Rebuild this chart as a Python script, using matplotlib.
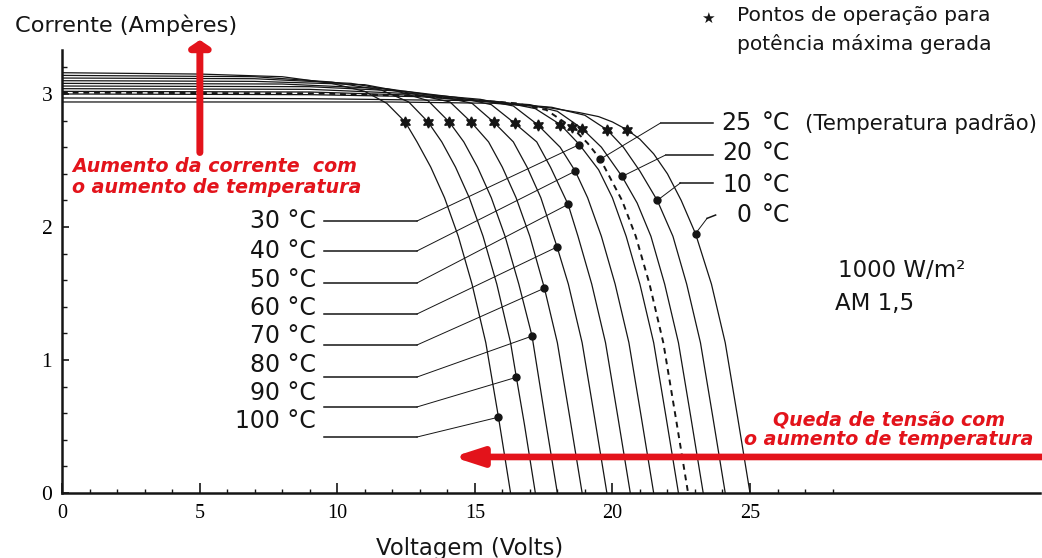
import matplotlib
matplotlib.use("Agg")
import matplotlib.pyplot as plt
from matplotlib.ticker import FixedLocator, MultipleLocator

# I-V curves (V in volts, I in amperes)
v_100 = [0, 5, 8, 9.8, 11.0, 11.8, 12.47, 12.9, 13.4, 13.9, 14.4, 14.9, 15.4, 15.86, 16.3]
i_100 = [3.16, 3.15, 3.13, 3.08, 3.02, 2.93, 2.79, 2.64, 2.45, 2.22, 1.93, 1.57, 1.13, 0.57, 0]
v_90 = [0, 7, 9.8, 11.6, 12.6, 13.3, 13.8, 14.3, 14.8, 15.3, 15.8, 16.3, 16.51, 16.8, 17.2]
i_90 = [3.14, 3.13, 3.09, 3.03, 2.94, 2.79, 2.64, 2.45, 2.22, 1.93, 1.57, 1.13, 0.87, 0.52, 0]
v_80 = [0, 7, 10.5, 12.2, 13.3, 14.07, 14.6, 15.1, 15.6, 16.1, 16.6, 17.08, 17.55, 18.0]
i_80 = [3.12, 3.115, 3.08, 3.02, 2.95, 2.79, 2.64, 2.45, 2.22, 1.93, 1.57, 1.18, 0.57, 0]
v_70 = [0, 7, 11, 12.8, 14.1, 14.86, 15.5, 16.0, 16.5, 17.0, 17.53, 18.0, 18.45, 18.9]
i_70 = [3.10, 3.095, 3.07, 3.0, 2.94, 2.79, 2.64, 2.45, 2.22, 1.93, 1.54, 1.13, 0.57, 0]
v_60 = [0, 8, 11.8, 13.8, 14.9, 15.68, 16.4, 16.9, 17.4, 17.99, 18.4, 18.9, 19.35, 19.8]
i_60 = [3.08, 3.075, 3.04, 2.98, 2.93, 2.79, 2.64, 2.45, 2.22, 1.85, 1.57, 1.13, 0.57, 0]
v_50 = [0, 9, 12.5, 14.5, 15.6, 16.45, 17.25, 17.75, 18.39, 18.75, 19.25, 19.75, 20.2, 20.65]
i_50 = [3.06, 3.055, 3.02, 2.97, 2.92, 2.78, 2.64, 2.45, 2.17, 1.93, 1.57, 1.13, 0.57, 0]
v_40 = [0, 9, 13, 15.2, 16.4, 17.28, 18.1, 18.65, 19.1, 19.6, 20.1, 20.6, 21.05, 21.5]
i_40 = [3.04, 3.035, 3.0, 2.96, 2.91, 2.77, 2.60, 2.42, 2.22, 1.93, 1.57, 1.13, 0.57, 0]
v_30 = [0, 9, 13, 16, 17.2, 18.11, 18.8, 19.5, 20.0, 20.5, 21.0, 21.5, 21.95, 22.4]
i_30 = [3.02, 3.015, 2.99, 2.94, 2.89, 2.77, 2.62, 2.43, 2.22, 1.93, 1.57, 1.13, 0.57, 0]
v_25 = [0, 9, 13, 16.5, 17.6, 18.53, 19.1, 19.56, 20.35, 20.85, 21.35, 21.85, 22.3, 22.75]
i_25 = [3.01, 3.005, 2.985, 2.93, 2.88, 2.75, 2.63, 2.51, 2.20, 1.93, 1.57, 1.13, 0.57, 0]
v_20 = [0, 9, 13, 17, 18.0, 18.9, 19.6, 20.35, 20.9, 21.4, 21.9, 22.4, 22.85, 23.3]
i_20 = [3.0, 2.995, 2.98, 2.92, 2.87, 2.74, 2.6, 2.38, 2.18, 1.93, 1.57, 1.13, 0.57, 0]
v_10 = [0, 9, 15, 17.8, 19.0, 19.81, 20.4, 21.0, 21.63, 22.2, 22.7, 23.2, 23.65, 24.1]
i_10 = [2.97, 2.965, 2.95, 2.9, 2.84, 2.73, 2.6, 2.42, 2.2, 1.93, 1.57, 1.13, 0.57, 0]
v_0 = [0, 12, 15.7, 17.6, 18.8, 19.5, 20.0, 20.54, 21.0, 21.5, 22.0, 22.5, 23.02, 23.6, 24.1, 24.55, 25.0]
i_0 = [2.94, 2.94, 2.93, 2.9, 2.86, 2.83, 2.79, 2.73, 2.66, 2.55, 2.4, 2.2, 1.95, 1.57, 1.13, 0.57, 0]

# maximum power points (stars), order 100 .. 0 °C
star_v = [12.47, 13.30, 14.07, 14.86, 15.68, 16.45, 17.28, 18.11, 18.53, 18.90, 19.81, 20.54]
star_i = [2.79, 2.79, 2.79, 2.79, 2.79, 2.78, 2.77, 2.77, 2.75, 2.74, 2.73, 2.73]

# label dots, left group 30 .. 100 °C
left_names = ["30 °C", "40 °C", "50 °C", "60 °C", "70 °C", "80 °C", "90 °C", "100 °C"]
left_dot_v = [18.8, 18.65, 18.39, 17.99, 17.53, 17.08, 16.51, 15.86]
left_dot_i = [2.62, 2.42, 2.17, 1.85, 1.54, 1.18, 0.87, 0.57]
# right group 25, 20, 10, 0 °C
right_names = ["25", "20", "10", "0"]
right_dot_v = [19.56, 20.35, 21.63, 23.02]
right_dot_i = [2.51, 2.38, 2.20, 1.95]

x_major = [0, 5, 10, 15, 20, 25]
y_major = [0, 1, 2, 3]

RED = "#e3131b"
INK = "#151515"

curves = [(v_100, i_100), (v_90, i_90), (v_80, i_80), (v_70, i_70), (v_60, i_60),
          (v_50, i_50), (v_40, i_40), (v_30, i_30), (v_25, i_25), (v_20, i_20),
          (v_10, i_10), (v_0, i_0)]

fig = plt.figure(figsize=(10.42, 5.58), dpi=100)
W, H = 1042, 558
ax = fig.add_axes([62 / W, (H - 493) / H, (1040 - 62) / W, (493 - 50) / H])
ax.set_xlim(0, (1040 - 62) / 27.52)
ax.set_ylim(0, (493 - 50) / 133.0)

for vv, ii in curves:
    if vv is v_25:
        ax.plot(vv, ii, color=INK, lw=1.4, ls=(0, (3, 2.5)), zorder=3)
    else:
        ax.plot(vv, ii, color=INK, lw=0.9, zorder=3)

ax.plot(star_v, star_i, ls="none", marker=(6, 1, 0), ms=8, color=INK, zorder=5)

# left labels with leader lines
left_text_y = [1.992, 1.767, 1.549, 1.338, 1.128, 0.910, 0.699, 0.489]
left_lead_y = [2.045, 1.820, 1.579, 1.346, 1.113, 0.872, 0.647, 0.421]
for name, ty, ly, dv, di in zip(left_names, left_text_y, left_lead_y, left_dot_v, left_dot_i):
    ax.text(9.23, ty, name, ha="right", va="baseline", fontsize=17,
            family="DejaVu Sans", color=INK)
    ax.plot([9.52, 12.9], [ly, ly], color=INK, lw=1.1, zorder=4)
    ax.plot([12.9, dv], [ly, di], color=INK, lw=0.7, zorder=4)
ax.plot(left_dot_v, left_dot_i, ls="none", marker="o", ms=5, color=INK, zorder=6)

# right labels with leader lines
right_text_y = [2.729, 2.504, 2.263, 2.038]
right_bend = [(21.75, 2.782), (21.93, 2.541), (22.47, 2.331), (23.44, 2.065)]
right_start = [(23.67, 2.782), (23.67, 2.541), (23.67, 2.331), (23.75, 2.09)]
for name, ty, (sx, sy), (bx, by), dv, di in zip(right_names, right_text_y, right_start,
                                                right_bend, right_dot_v, right_dot_i):
    ax.text(25.07, ty, name, ha="right", va="baseline", fontsize=17,
            family="DejaVu Sans", color=INK)
    ax.text(25.44, ty, "°C", ha="left", va="baseline", fontsize=17,
            family="DejaVu Sans", color=INK)
    ax.plot([sx, bx], [sy, by], color=INK, lw=1.1, zorder=4)
    ax.plot([bx, dv], [by, di], color=INK, lw=0.7, zorder=4)
ax.plot(right_dot_v, right_dot_i, ls="none", marker="o", ms=5, color=INK, zorder=6)
ax.text(27.0, right_text_y[0], "(Temperatura padrão)", ha="left", va="baseline",
        fontsize=15.3, family="DejaVu Sans", color=INK)

ax.text(28.2, 1.624, "1000 W/m²", ha="left", va="baseline", fontsize=16.5,
        family="DejaVu Sans", color=INK)
ax.text(28.09, 1.376, "AM 1,5", ha="left", va="baseline", fontsize=16.5,
        family="DejaVu Sans", color=INK)

# red annotations
ax.annotate("", xy=(5.01, 3.406), xytext=(5.01, 2.56), annotation_clip=False,
            arrowprops=dict(arrowstyle="-|>,head_length=4,head_width=6",
                            mutation_scale=1, lw=5, color=RED,
                            shrinkA=0, shrinkB=0))
ax.annotate("", xy=(14.21, 0.271), xytext=(35.7, 0.271), annotation_clip=False,
            arrowprops=dict(arrowstyle="-|>,head_length=17,head_width=5.5",
                            mutation_scale=1, lw=4.8, color=RED,
                            shrinkA=0, shrinkB=0))
# multi-line texts: the anchor is the baseline of the last line
red_font = dict(family="DejaVu Sans", weight="bold", style="oblique",
                fontsize=13.7, color=RED, va="baseline")
ax.text(0.36, 2.256, "Aumento da corrente  com\no aumento de temperatura",
        ha="left", multialignment="left", linespacing=1.12, **red_font)
ax.text(30.05, 0.361, "Queda de tensão com\no aumento de temperatura",
        ha="center", multialignment="center", linespacing=1.02, **red_font)

# axis titles and star legend
fig.text(15 / W, 1 - 32 / H, "Corrente (Ampères)", ha="left", va="baseline",
         fontsize=16.2, family="DejaVu Sans", color=INK)
fig.text(470 / W, 1 - 555 / H, "Voltagem (Volts)", ha="center", va="baseline",
         fontsize=16.4, family="DejaVu Sans", color=INK)
fig.text(708 / W, 1 - 23 / H, "★", ha="center", va="baseline", fontsize=11,
         family="DejaVu Sans", color=INK)
fig.text(737 / W, 1 - 50 / H, "Pontos de operação para\npotência máxima gerada",
         ha="left", va="baseline", fontsize=14.6, family="DejaVu Sans",
         color=INK, linespacing=1.55)

# axes styling
for side in ("top", "right"):
    ax.spines[side].set_visible(False)
for side in ("left", "bottom"):
    ax.spines[side].set_linewidth(1.8)
    ax.spines[side].set_color(INK)
ax.xaxis.set_major_locator(FixedLocator(x_major))
ax.xaxis.set_minor_locator(FixedLocator(list(range(0, 29))))
ax.yaxis.set_major_locator(FixedLocator(y_major))
ax.yaxis.set_minor_locator(MultipleLocator(0.2))
ax.tick_params(which="both", direction="in", top=False, right=False, color=INK)
ax.tick_params(axis="x", which="major", length=7, width=1.2, pad=8)
ax.tick_params(axis="x", which="minor", length=2.6, width=1.0)
ax.tick_params(axis="y", which="major", length=5, width=1.2, pad=7)
ax.tick_params(axis="y", which="minor", length=3.6, width=1.0)
for lab in ax.get_xticklabels():
    lab.set_family("Liberation Serif")
    lab.set_fontsize(14.5)
for lab in ax.get_yticklabels():
    lab.set_family("Liberation Serif")
    lab.set_fontsize(15.5)

fig.savefig("out.png", dpi=100)
